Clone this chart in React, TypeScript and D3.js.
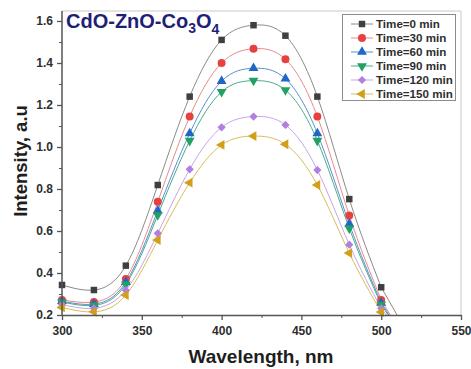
import { useEffect, useRef } from 'react';
import * as d3 from 'd3';

// wavelength (nm) where the intensity was sampled
const wavelengths = [300, 320, 340, 360, 380, 400, 420, 440, 460, 480, 500];

const seriesNames = ['Time=0 min', 'Time=30 min', 'Time=60 min', 'Time=90 min', 'Time=120 min', 'Time=150 min'];

const time0 = [0.343, 0.319, 0.435, 0.819, 1.24, 1.51, 1.58, 1.53, 1.24, 0.752, 0.332];
const time30 = [0.272, 0.262, 0.371, 0.739, 1.145, 1.40, 1.468, 1.418, 1.145, 0.674, 0.272];
const time60 = [0.266, 0.252, 0.356, 0.697, 1.065, 1.314, 1.375, 1.325, 1.065, 0.634, 0.258];
const time90 = [0.262, 0.246, 0.346, 0.676, 1.03, 1.263, 1.316, 1.271, 1.03, 0.613, 0.25];
const time120 = [0.25, 0.232, 0.318, 0.589, 0.894, 1.094, 1.145, 1.105, 0.89, 0.535, 0.232];
const time150 = [0.236, 0.215, 0.295, 0.557, 0.83, 1.01, 1.052, 1.013, 0.819, 0.495, 0.214];

const seriesValues = [time0, time30, time60, time90, time120, time150];

const xMajorTicks = [300, 350, 400, 450, 500, 550];
const xMinorTicks = [325, 375, 425, 475, 525];
const yMajorTicks = [0.2, 0.4, 0.6, 0.8, 1.0, 1.2, 1.4, 1.6];
const yMinorTicks = [0.3, 0.5, 0.7, 0.9, 1.1, 1.3, 1.5];

const markerColors = ['#3f3f3f', '#e8403f', '#1f66c9', '#22a066', '#b27fe0', '#d19f1a'];
const lineColors = ['#8a8a8a', '#e88a8a', '#5b8fd0', '#4aab8c', '#c9a5e6', '#d9bd5a'];
// symbol type + rotation
const markerShapes: [d3.SymbolType, number, number][] = [
  [d3.symbolSquare, 0, 42],
  [d3.symbolCircle, 0, 50],
  [d3.symbolTriangle, 0, 42],
  [d3.symbolTriangle, 180, 42],
  [d3.symbolSquare, 45, 34],
  [d3.symbolTriangle, -90, 42],
];

const WIDTH = 471;
const HEIGHT = 369;

export default function App() {
  const ref = useRef<SVGSVGElement>(null);

  useEffect(() => {
    if (!ref.current) return;
    const svg = d3.select(ref.current);
    svg.selectAll('*').remove();

    const left = 62;
    const right = 461;
    const top = 11;
    const bottom = 315;
    const font = '"Liberation Sans", Arial, sans-serif';

    const x = d3.scaleLinear().domain([300, 550]).range([left, right]);
    const y = d3.scaleLinear().domain([0.2, 1.6]).range([bottom, 21]);

    svg.append('rect').attr('width', WIDTH).attr('height', HEIGHT).attr('fill', '#fff');

    // frame (light top / right)
    svg.append('path')
      .attr('d', `M${left},${top}H${right}V${bottom}`)
      .attr('fill', 'none')
      .attr('stroke', '#c9c9c9')
      .attr('stroke-width', 1);

    svg.append('defs')
      .append('clipPath')
      .attr('id', 'plot-clip')
      .append('rect')
      .attr('x', left)
      .attr('y', top)
      .attr('width', right - left)
      .attr('height', bottom - top);

    const plot = svg.append('g').attr('clip-path', 'url(#plot-clip)');

    // curves
    seriesValues.forEach((vals, i) => {
      const pts: [number, number][] = wavelengths.map((w, j) => [x(w), y(vals[j])]);
      const line = d3.line().curve(d3.curveNatural);
      // tail continues past the last point down to the axis
      const n = vals.length;
      const slope = 0.63 * (vals[n - 1] - vals[n - 2]) / (wavelengths[n - 1] - wavelengths[n - 2]);
      const endW = wavelengths[n - 1] + (0.19 - vals[n - 1]) / slope;
      plot.append('path')
        .attr('d', (line(pts) ?? '') + `L${x(endW)},${y(0.19)}`)
        .attr('fill', 'none')
        .attr('stroke', lineColors[i])
        .attr('stroke-width', 1);
    });

    // markers
    seriesValues.forEach((vals, i) => {
      const [type, rot, size] = markerShapes[i];
      const sym = d3.symbol().type(type).size(size);
      svg.append('g')
        .selectAll('path')
        .data(vals)
        .enter()
        .append('path')
        .attr('d', sym() ?? '')
        .attr('transform', (d, j) => `translate(${x(wavelengths[j])},${y(d)}) rotate(${rot})`)
        .attr('fill', markerColors[i]);
    });

    // axes
    const styleAxis = (g: d3.Selection<SVGGElement, unknown, null, undefined>) => {
      g.select('.domain').attr('stroke', '#555').attr('stroke-width', 1.5);
      g.selectAll('.tick line').attr('stroke', '#555').attr('stroke-width', 1.3);
      g.selectAll('.tick text')
        .attr('fill', '#2e2e2e')
        .attr('font-family', font)
        .attr('font-weight', 'bold')
        .attr('font-size', 12);
    };

    const xAxis = svg.append('g')
      .attr('transform', `translate(0,${bottom})`)
      .call(d3.axisBottom(x).tickValues(xMajorTicks).tickSize(5).tickSizeOuter(0).tickPadding(6).tickFormat(d3.format('d')));
    styleAxis(xAxis);

    const xMinor = svg.append('g')
      .attr('transform', `translate(0,${bottom})`)
      .call(d3.axisBottom(x).tickValues(xMinorTicks).tickSize(3).tickSizeOuter(0).tickFormat(() => ''));
    xMinor.select('.domain').remove();
    xMinor.selectAll('.tick line').attr('stroke', '#555');

    const yAxis = svg.append('g')
      .attr('transform', `translate(${left},0)`)
      .call(d3.axisLeft(y).tickValues(yMajorTicks).tickSize(5).tickSizeOuter(0).tickPadding(4).tickFormat(d3.format('.1f')));
    yAxis.select('.domain').attr('d', `M0,${bottom}V${top}`);
    styleAxis(yAxis);

    const yMinor = svg.append('g')
      .attr('transform', `translate(${left},0)`)
      .call(d3.axisLeft(y).tickValues(yMinorTicks).tickSize(3).tickSizeOuter(0).tickFormat(() => ''));
    yMinor.select('.domain').remove();
    yMinor.selectAll('.tick line').attr('stroke', '#555');

    // axis titles
    svg.append('text')
      .attr('x', 261)
      .attr('y', 363)
      .attr('text-anchor', 'middle')
      .attr('font-family', font)
      .attr('font-weight', 'bold')
      .attr('font-size', 19)
      .attr('fill', '#1e1e1e')
      .text('Wavelength, nm');

    svg.append('text')
      .attr('transform', 'translate(27,161) rotate(-90)')
      .attr('text-anchor', 'middle')
      .attr('font-family', font)
      .attr('font-weight', 'bold')
      .attr('font-size', 18.5)
      .attr('fill', '#1e1e1e')
      .text('Intensity, a.u');

    // sample name
    const title = svg.append('text')
      .attr('x', 66)
      .attr('y', 28)
      .attr('font-family', font)
      .attr('font-weight', 'bold')
      .attr('font-size', 20)
      .attr('fill', '#1f1f78');
    title.append('tspan').text('CdO-ZnO-Co');
    title.append('tspan').attr('dy', 5).attr('font-size', 14).text('3');
    title.append('tspan').attr('dy', -5).text('O');
    title.append('tspan').attr('dy', 6).attr('font-size', 14).text('4');

    // legend
    const lg = svg.append('g');
    lg.append('rect')
      .attr('x', 342.5)
      .attr('y', 14.5)
      .attr('width', 113)
      .attr('height', 86)
      .attr('fill', '#fff')
      .attr('stroke', '#8c8c8c')
      .attr('stroke-width', 1);
    seriesNames.forEach((name, i) => {
      const ly = 24 + i * 14;
      lg.append('line')
        .attr('x1', 351).attr('x2', 373)
        .attr('y1', ly).attr('y2', ly)
        .attr('stroke', lineColors[i])
        .attr('stroke-width', 1);
      const [type, rot, size] = markerShapes[i];
      lg.append('path')
        .attr('d', d3.symbol().type(type).size(size)() ?? '')
        .attr('transform', `translate(362,${ly}) rotate(${rot})`)
        .attr('fill', markerColors[i]);
      lg.append('text')
        .attr('x', 376)
        .attr('y', ly + 4)
        .attr('font-family', font)
        .attr('font-weight', 'bold')
        .attr('font-size', 11.6)
        .attr('fill', '#2e2e2e')
        .text(name);
    });
  }, []);

  return (
    <svg
      ref={ref}
      width={WIDTH}
      height={HEIGHT}
      style={{ position: 'fixed', left: 0, top: 0, display: 'block' }}
    />
  );
}
